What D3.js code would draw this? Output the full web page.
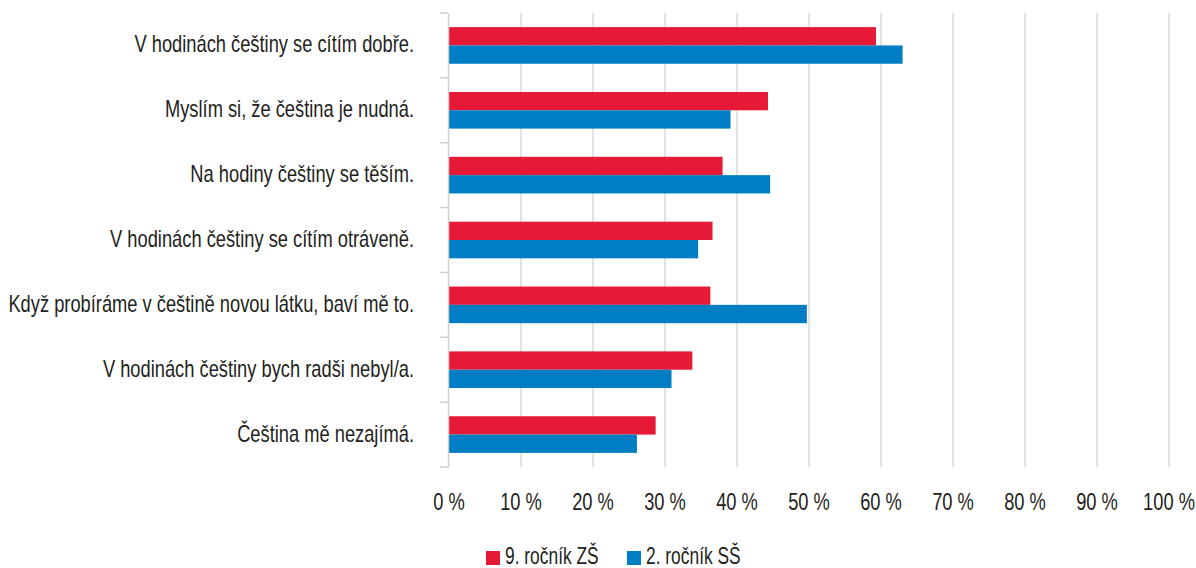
<!DOCTYPE html>
<html><head><meta charset="utf-8">
<script src="https://cdn.jsdelivr.net/npm/d3@7"></script>
<style>
html,body{margin:0;padding:0;background:#fff;}
svg text{font-family:"Liberation Sans",Arial,sans-serif;fill:#231f20;}
</style></head>
<body><svg id="c" width="1196" height="568"></svg>
<script>
const categories = [
  "V hodinách češtiny se cítím dobře.",
  "Myslím si, že čeština je nudná.",
  "Na hodiny češtiny se těším.",
  "V hodinách češtiny se cítím otráveně.",
  "Když probíráme v češtině novou látku, baví mě to.",
  "V hodinách češtiny bych radši nebyl/a.",
  "Čeština mě nezajímá."
];
const seriesNames = ["9. ročník ZŠ", "2. ročník SŠ"];
const zs = [59.3, 44.3, 38.0, 36.6, 36.3, 33.8, 28.7];
const ss = [63.0, 39.1, 44.6, 34.6, 49.7, 30.9, 26.1];
const xTicks = [0,10,20,30,40,50,60,70,80,90,100];
const colors = ["#e61937", "#007dc3"];

const FS = 23;
const svg = d3.select("#c");
const x = d3.scaleLinear().domain([0,100]).range([449,1169]);
const y = d3.scaleBand().domain(categories).range([13,467]).padding(0);
const y1 = d3.scaleBand().domain([0,1]).range([0,y.bandwidth()]).paddingInner(0).paddingOuter(0.77);

// measure to get horizontal compression (condensed look)
const probe = svg.append("text").attr("font-size",FS).text(categories[4]);
const sx = 406 / probe.node().getComputedTextLength();
probe.remove();

function label(sel, tx, ty, anchor, txt, k) {
  sel.append("text").attr("transform", `translate(${tx},${ty}) scale(${sx*(k||1)},1)`)
    .attr("text-anchor", anchor).attr("font-size", FS).text(txt);
}

// gridlines
svg.append("g").selectAll("line").data(xTicks.slice(1)).join("line")
  .attr("x1", d=>x(d)).attr("x2", d=>x(d)).attr("y1",13).attr("y2",467)
  .attr("stroke","#d9d9d9").attr("stroke-width",1.5);

// bars
const series = [zs, ss];
const g = svg.append("g");
categories.forEach((c,i)=>{
  series.forEach((s,j)=>{
    g.append("rect").attr("x", x(0)).attr("y", y(c)+y1(j))
      .attr("width", x(s[i])-x(0)).attr("height", y1.bandwidth())
      .attr("fill", colors[j]);
  });
});

// left axis
const yAxis = d3.axisLeft(y).tickSize(0).tickFormat("");
const ax = svg.append("g").attr("transform","translate(448,0)").call(yAxis);
ax.select(".domain").attr("stroke","#d0d0d0").attr("stroke-width",1.5);
const bounds = [13].concat(categories.map(c=>y(c)+y.bandwidth()));
ax.selectAll(".bt").data(bounds).join("line").attr("class","bt")
  .attr("x1",-8).attr("x2",0).attr("y1",d=>d).attr("y2",d=>d)
  .attr("stroke","#d0d0d0").attr("stroke-width",1.5);

// category labels
const lg = svg.append("g");
categories.forEach(c => label(lg, 414, y(c)+y.bandwidth()/2+7, "end", c));

// x tick labels
const tg = svg.append("g");
xTicks.forEach(t => label(tg, x(t), 510, "middle", t + " %"));

// legend
const lx = [486, 627];
seriesNames.forEach((n,j)=>{
  svg.append("rect").attr("x",lx[j]).attr("y",551).attr("width",14).attr("height",14).attr("fill",colors[j]);
  label(svg, lx[j]+19, 564, "start", n, 0.95);
});
</script></body></html>
